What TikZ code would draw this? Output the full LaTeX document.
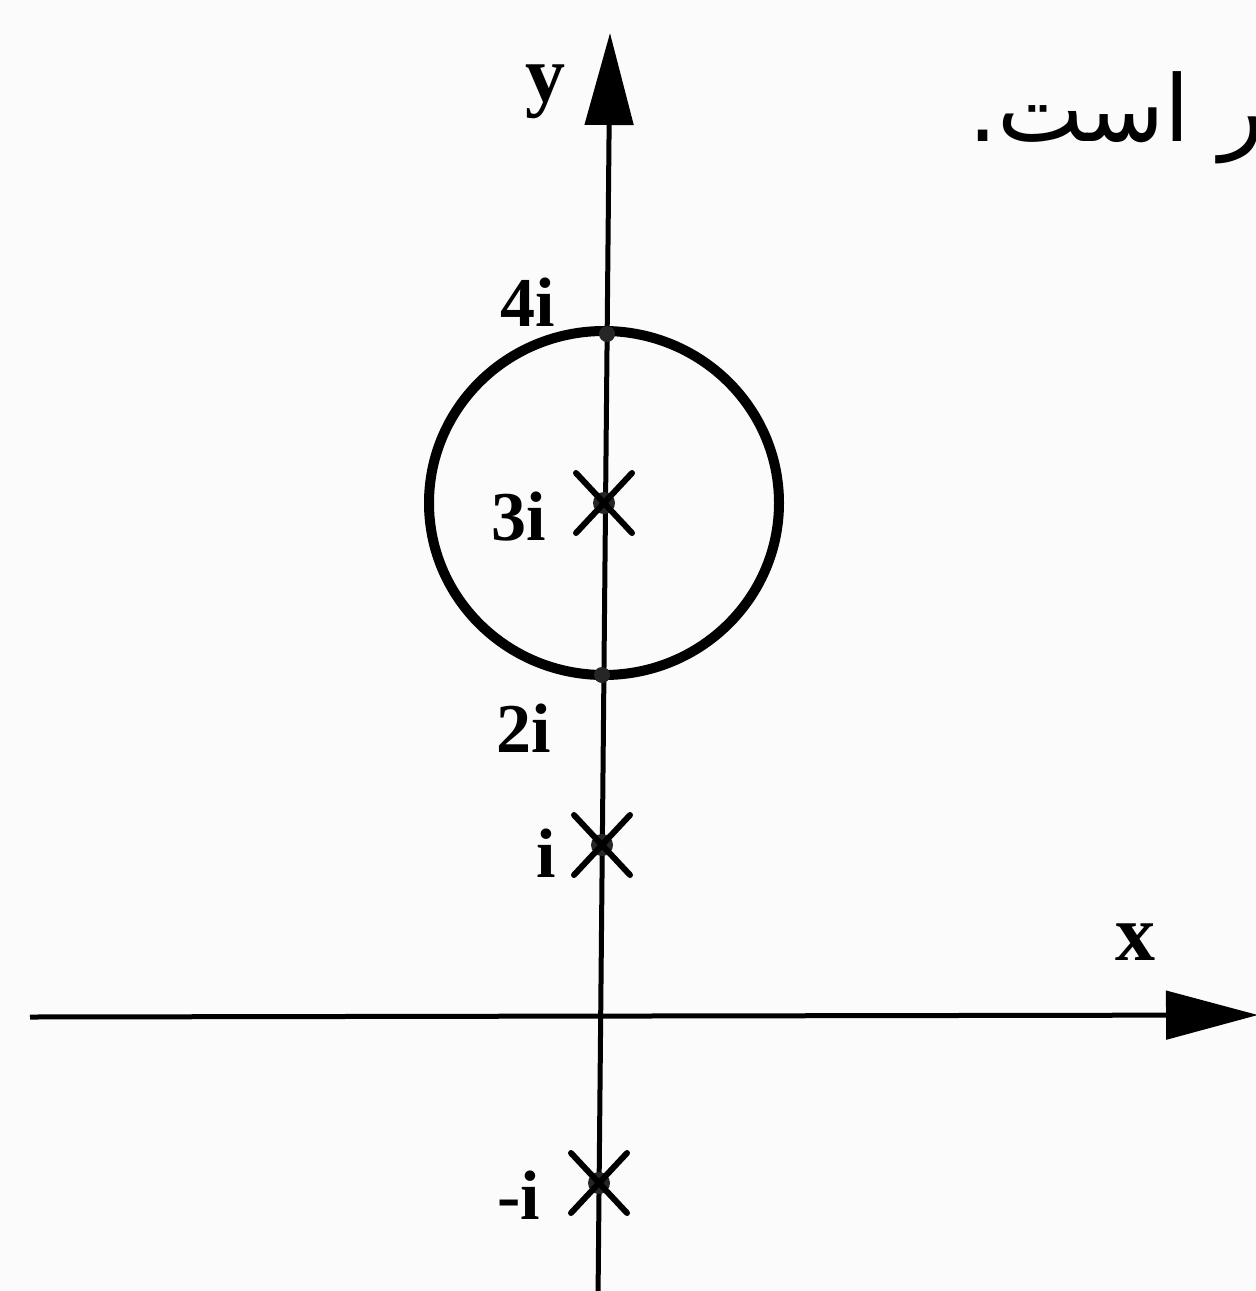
\documentclass[tikz,border=0pt]{standalone}
\usepackage{fontspec}
\setmainfont{Liberation Serif}
\newfontfamily\arabicfont[Script=Arabic]{DejaVu Sans}
\TeXXeTstate=1
\usetikzlibrary{arrows.meta,calc}
\begin{document}
\begin{tikzpicture}[x=1pt,y=-1pt,
  axisline/.style={line width=5pt,-{Triangle[length=92pt,width=48pt]}},
  lbl/.style={font=\fontsize{70}{70}\selectfont\bfseries,inner sep=0pt},
  pole/.style={line width=6pt,line cap=round},
  dotpt/.style={circle,fill=black!85,inner sep=0pt,minimum size=16pt}]
\useasboundingbox (0,0) rectangle (1256,1291);
\clip (0,0) rectangle (1256,1291);
\fill[white!97!gray] (0,0) rectangle (1256,1291);
% axes
\coordinate (ybot) at (598,1300);
\coordinate (ytop) at (610,33);
\coordinate (xleft) at (30,1017);
\coordinate (xright) at (1258,1015);
\draw[axisline] (ybot) -- (ytop);
\draw[axisline] (xleft) -- (xright);
% circle
\coordinate (c3) at (604,503);
\draw[line width=10pt] (c3) ellipse (175pt and 172pt);
% points
\node[dotpt] (p4) at (607,334) {};
\node[dotpt] (p2) at (602,675) {};
\node[dotpt,minimum size=22pt] (p3) at (c3) {};
\node[dotpt,minimum size=22pt] (p1) at (602,845) {};
\node[dotpt,minimum size=22pt] (pm) at (599,1183) {};
\foreach \p in {p3,p1,pm}{
  \draw[pole] ($(\p)+(-28,-30)$) -- ($(\p)+(28,30)$);
  \draw[pole] ($(\p)+(28,-30)$) -- ($(\p)+(-28,30)$);
}
% labels
\node[lbl,font=\fontsize{80}{80}\selectfont\bfseries] (ly) at (545,92) {y};
\node[lbl,font=\fontsize{80}{80}\selectfont\bfseries] (lx) at (1135,942) {x};
\node[lbl] (l4) at (528,302) {4i};
\node[lbl] (l3) at (519,517) {3i};
\node[lbl] (l2) at (524,728) {2i};
\node[lbl] (l1) at (546,853) {i};
\node[lbl] (lm) at (519,1195) {-i};
\node[font=\arabicfont\fontsize{92}{92}\selectfont,anchor=west,inner sep=0pt] (ar) at (968,118) {\beginR ر است.\endR};
\end{tikzpicture}
\end{document}
